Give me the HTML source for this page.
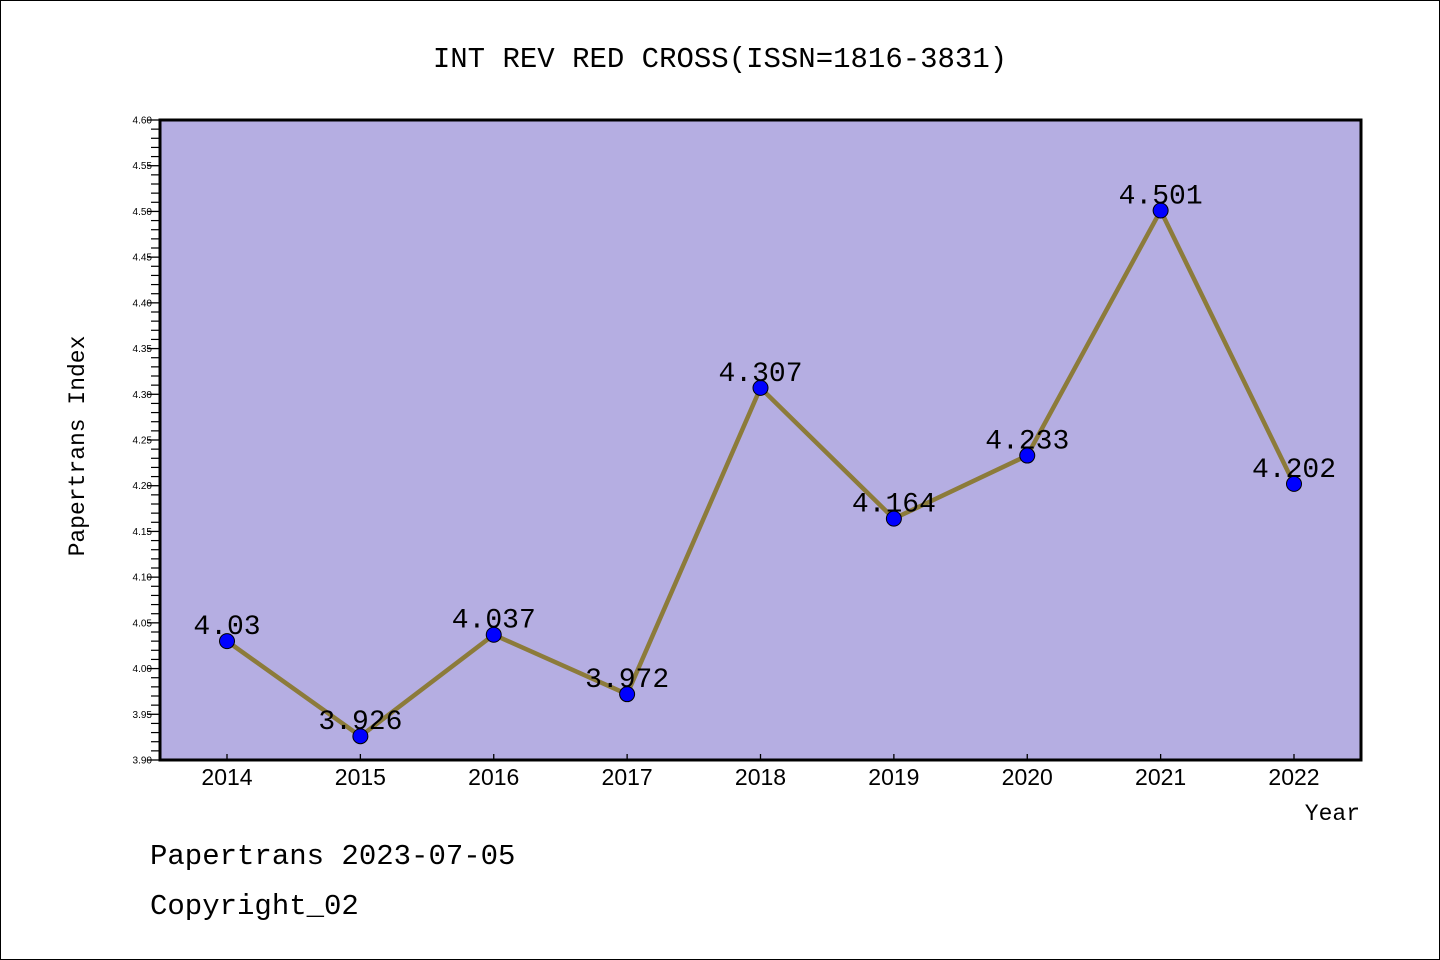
<!DOCTYPE html>
<html><head><meta charset="utf-8"><style>
html,body{margin:0;padding:0;background:#fff}
svg{display:block}
</style></head><body>
<svg xmlns="http://www.w3.org/2000/svg" width="1440" height="960" viewBox="0 0 1440 960">
<rect x="0.5" y="0.5" width="1439" height="959" fill="#fff" stroke="#000" stroke-width="1"/>
<text x="720" y="67" text-anchor="middle" font-family="'WenQuanYi Zen Hei','Liberation Mono',monospace" font-size="29">INT REV RED CROSS(ISSN=1816-3831)</text>
<rect x="160" y="120" width="1201" height="640" fill="#b5aee2"/>
<g id="axes"></g>
<g id="marks"></g>
<rect x="160" y="120" width="1201" height="640" fill="none" stroke="#000" stroke-width="3"/>
<text transform="translate(84,446) rotate(-90)" text-anchor="middle" font-family="'WenQuanYi Zen Hei','Liberation Mono',monospace" font-size="23">Papertrans Index</text>
<text x="1360" y="820" text-anchor="end" font-family="'WenQuanYi Zen Hei','Liberation Mono',monospace" font-size="23">Year</text>
<text x="150" y="864" font-family="'WenQuanYi Zen Hei','Liberation Mono',monospace" font-size="29">Papertrans 2023-07-05</text>
<text x="150" y="914" font-family="'WenQuanYi Zen Hei','Liberation Mono',monospace" font-size="29">Copyright_02</text>
</svg>
<script>
const categories = ["2014","2015","2016","2017","2018","2019","2020","2021","2022"];
const values = [4.03,3.926,4.037,3.972,4.307,4.164,4.233,4.501,4.202];
const valueLabels = ["4.03","3.926","4.037","3.972","4.307","4.164","4.233","4.501","4.202"];
const yTicks = [3.90,3.95,4.00,4.05,4.10,4.15,4.20,4.25,4.30,4.35,4.40,4.45,4.50,4.55,4.60];
const yMin = 3.90, yMax = 4.60;
const NS = "http://www.w3.org/2000/svg";
function x(i){ return 227 + i*(1294-227)/(categories.length-1); }
function y(v){ return 760 - (v-yMin)/(yMax-yMin)*640; }
function mk(tag, attrs, parent){ const e=document.createElementNS(NS,tag); for(const k in attrs) e.setAttribute(k,attrs[k]); parent.appendChild(e); return e; }
const axes=document.getElementById('axes'), marks=document.getElementById('marks');
// y ticks
for(let t=0;t<yTicks.length;t++){
  const v=yTicks[t], yy=y(v);
  const l=mk('line',{x1:147,x2:160,y1:yy,y2:yy,stroke:'#000','stroke-width':1.3},axes);
  
  
  const tx=mk('text',{x:152,y:yy+3.5,'text-anchor':'end','font-family':"'Liberation Sans',sans-serif",'font-size':10},axes);
  tx.textContent=v.toFixed(2);
  
  
  if(t<yTicks.length-1){
    for(let m=1;m<5;m++){
      const ym=y(v+m*0.01);
      const ml=mk('line',{x1:151,x2:160,y1:ym,y2:ym,stroke:'#000','stroke-width':1.2},axes);
      
      
    }
  }
}
// x ticks
categories.forEach((c,i)=>{
  const l=mk('line',{x1:x(i),x2:x(i),y1:754,y2:760,stroke:'#000','stroke-width':1.3},axes);
  
  
  const tx=mk('text',{x:x(i),y:785,'text-anchor':'middle','font-family':"'WenQuanYi Zen Hei','Liberation Sans',sans-serif",'font-size':23},axes);
  tx.textContent=c;
  
  
});
// line
const pts=values.map((v,i)=>x(i)+','+y(v)).join(' ');
const pl=mk('polyline',{points:pts,fill:'none',stroke:'#8c7b3a','stroke-width':4.5,'stroke-linejoin':'round'},marks);


values.forEach((v,i)=>{
  const c=mk('circle',{cx:x(i),cy:y(v),r:7.5,fill:'#0000ff',stroke:'#000','stroke-width':1},marks);
  
  
});
values.forEach((v,i)=>{
  const t=mk('text',{x:x(i),y:y(v)-7,'text-anchor':'middle','font-family':"'WenQuanYi Zen Hei','Liberation Mono',monospace",'font-size':28},marks);
  t.textContent=valueLabels[i];
  
  
});
</script>
</body></html>
